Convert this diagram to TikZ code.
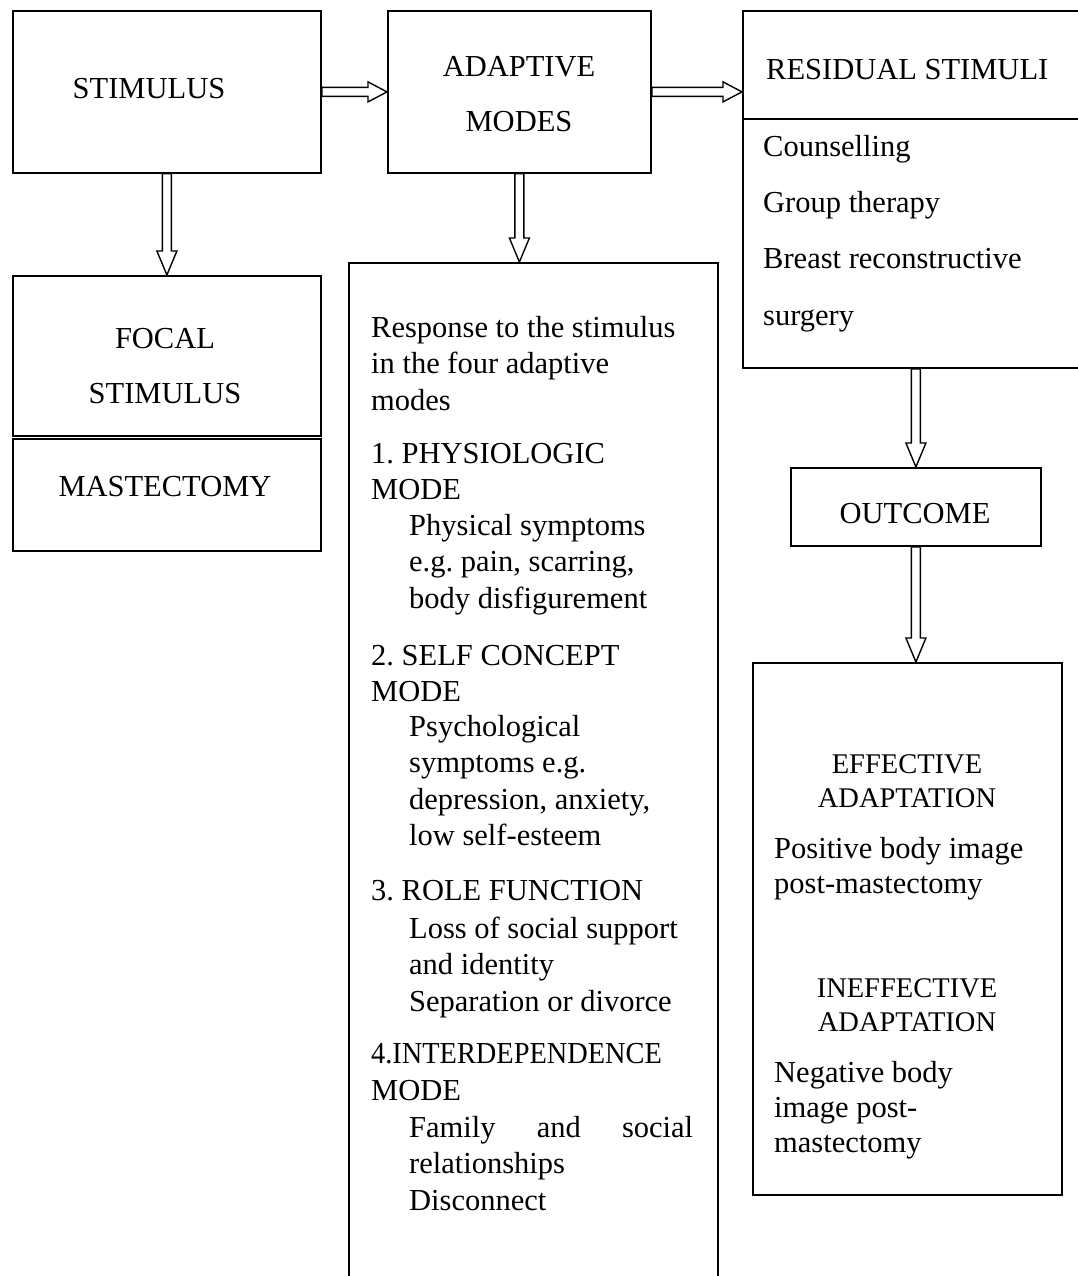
\documentclass[tikz,border=0pt]{standalone}
\usepackage{graphicx}
\usepackage{fontspec}
\setmainfont{Liberation Serif}
\frenchspacing
\usetikzlibrary{calc}
\tikzset{
  box/.style={draw, line width=1.8pt, rectangle, inner sep=0pt, anchor=north west},
  arr/.style={draw, line width=1.4pt, line join=miter},
  txt/.style={inner sep=0pt, anchor=base west, align=left, font=\fontsize{30.5}{36.5}\selectfont},
  ctxt/.style={inner sep=0pt, anchor=base, align=center, font=\fontsize{30.5}{36.5}\selectfont},
  capt/.style={inner sep=0pt, anchor=base, align=center, font=\fontsize{28.5}{34}\selectfont},
}
% horizontal hollow arrow: from #1 (start) to x of #2
\newcommand\hollowH[2]{\draw[arr] let \p1=(#1), \p2=(#2) in
  (\x1,\y1+4.5pt) -- (\x2-19pt,\y1+4.5pt) -- (\x2-19pt,\y1+10pt) -- (\x2,\y1)
  -- (\x2-19pt,\y1-10pt) -- (\x2-19pt,\y1-4.5pt) -- (\x1,\y1-4.5pt) -- cycle;}
% vertical hollow arrow: starts at y of #1, tip at #2
\newcommand\hollowV[2]{\draw[arr] let \p1=(#1), \p2=(#2) in
  (\x2-4.5pt,\y1) -- (\x2-4.5pt,\y2+24pt) -- (\x2-10pt,\y2+24pt) -- (\x2,\y2)
  -- (\x2+10pt,\y2+24pt) -- (\x2+4.5pt,\y2+24pt) -- (\x2+4.5pt,\y1) -- cycle;}
\begin{document}
\begin{tikzpicture}[x=1pt,y=-1pt]
\useasboundingbox (0,0) rectangle (1078,1276);
\clip (0,0) rectangle (1078,1276);

% boxes
\node[box, minimum width=308pt, minimum height=162pt] (stim) at (12,10) {};
\node[box, minimum width=263pt, minimum height=162pt] (adapt) at (387,10) {};
\node[box, minimum width=360pt, minimum height=108pt] (resid) at (742,10) {};
\node[box, minimum width=360pt, minimum height=249pt] (residlist) at (742,118) {};
\node[box, minimum width=308pt, minimum height=160pt] (focal) at (12,275) {};
\node[box, minimum width=308pt, minimum height=112pt] (mast) at (12,438) {};
\node[box, minimum width=369pt, minimum height=1040pt] (resp) at (348,262) {};
\node[box, minimum width=250pt, minimum height=78pt] (outcome) at (790,467) {};
\node[box, minimum width=309pt, minimum height=532pt] (eff) at (752,662) {};

% arrows
\hollowH{stim.east}{adapt.west}
\hollowH{adapt.east}{resid.west |- adapt.east}
\hollowV{stim.south}{focal.north}
\hollowV{adapt.south}{resp.north -| adapt.south}
\hollowV{residlist.south}{outcome.north}
\hollowV{outcome.south}{outcome.south |- eff.north}

% (multi-line text nodes are placed by the baseline of their last line)
% texts in top row
\node[ctxt] (tstim) at (149,99) {STIMULUS};
\node[ctxt, font=\fontsize{30.5}{55}\selectfont] (tadapt) at (519,132) {ADAPTIVE\\MODES};
\node[txt] (tresid) at (766,80) {RESIDUAL STIMULI};
\node[txt, font=\fontsize{30.5}{56.2}\selectfont] (tlist) at (763,325)
  {Counselling\\Group therapy\\Breast reconstructive\\surgery};

% left column
\node[ctxt, font=\fontsize{30.5}{55}\selectfont] (tfocal) at (165,403) {FOCAL\\STIMULUS};
\node[ctxt] (tmast) at (165,496) {MASTECTOMY};

% response column
\node[txt] (r1) at (371,410) {Response to the stimulus\\in the four adaptive\\modes};
\node[txt] (r2) at (371,499.5) {1. PHYSIOLOGIC\\MODE};
\node[txt] (r3) at (409,608) {Physical symptoms\\e.g. pain, scarring,\\body disfigurement};
\node[txt] (r4) at (371,701.5) {2. SELF CONCEPT\\MODE};
\node[txt] (r5) at (409,845.5) {Psychological\\symptoms e.g.\\depression, anxiety,\\low self-esteem};
\node[txt] (r6) at (371,900) {3. ROLE FUNCTION};
\node[txt] (r7) at (409,1011) {Loss of social support\\and identity\\Separation or divorce};
\node[txt] (r8) at (371,1100) {\scalebox{0.93}[1]{4.INTERDEPENDENCE}\\MODE};
\node[txt] (r9) at (409,1210) {\hbox to 284pt{Family\hfill and\hfill social}\\relationships\\Disconnect};

% outcome column
\node[ctxt] (tout) at (915,523) {OUTCOME};
\node[capt] (e1) at (907,807) {EFFECTIVE\\ADAPTATION};
\node[txt, font=\fontsize{30.5}{35}\selectfont] (e2) at (774,893) {Positive body image\\post-mastectomy};
\node[capt] (e3) at (907,1031) {INEFFECTIVE\\ADAPTATION};
\node[txt, font=\fontsize{30.5}{35}\selectfont] (e4) at (774,1152) {Negative body\\image post-\\mastectomy};
\end{tikzpicture}
\end{document}
